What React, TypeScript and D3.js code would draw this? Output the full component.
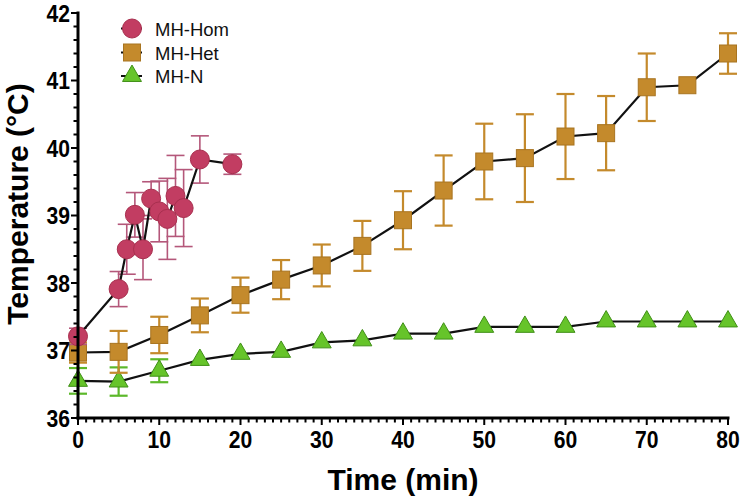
import React from "react";
import * as d3 from "d3";

const homTime = [0, 5, 6, 7, 8, 9, 10, 11, 12, 13, 15, 19];
const homMean = [37.21, 37.91, 38.5, 39.01, 38.5, 39.25, 39.06, 38.95, 39.29, 39.11, 39.83, 39.76];
const homErr = [0.12, 0.26, 0.37, 0.33, 0.45, 0.25, 0.45, 0.6, 0.6, 0.57, 0.35, 0.15];

const hetTime = [0, 5, 10, 15, 20, 25, 30, 35, 40, 45, 50, 55, 60, 65, 70, 75, 80];
const hetMean = [36.97, 36.98, 37.23, 37.52, 37.82, 38.05, 38.26, 38.55, 38.93, 39.37, 39.8, 39.85, 40.17, 40.22, 40.9, 40.93, 41.4];
const hetErr = [0.15, 0.31, 0.27, 0.25, 0.26, 0.29, 0.31, 0.37, 0.43, 0.52, 0.56, 0.65, 0.63, 0.55, 0.5, 0, 0.3];

const nTime = [0, 5, 10, 15, 20, 25, 30, 35, 40, 45, 50, 55, 60, 65, 70, 75, 80];
const nMean = [36.55, 36.54, 36.7, 36.86, 36.95, 36.98, 37.12, 37.15, 37.25, 37.25, 37.35, 37.35, 37.35, 37.43, 37.43, 37.43, 37.43];
const nErr = [0.19, 0.21, 0.17, 0, 0, 0, 0, 0, 0, 0, 0, 0, 0, 0, 0, 0, 0];

const xTicks = [0, 10, 20, 30, 40, 50, 60, 70, 80];
const yTicks = [36, 37, 38, 39, 40, 41, 42];
const seriesNames = ["MH-Hom", "MH-Het", "MH-N"];

const FONT = "'Liberation Sans', Arial, Helvetica, sans-serif";

type Pt = { t: number; m: number; e: number };
const zip = (t: number[], m: number[], e: number[]): Pt[] => t.map((v, i) => ({ t: v, m: m[i], e: e[i] }));

export default function App() {
  const W = 744, H = 501;
  const x = d3.scaleLinear().domain([0, 80]).range([78, 728]);
  const y = d3.scaleLinear().domain([36, 42]).range([418, 13]);
  const line = d3.line<Pt>().x(d => x(d.t)).y(d => y(d.m));

  const series = [
    { name: seriesNames[2], data: zip(nTime, nMean, nErr), fill: "#66c42a", stroke: "#3f8f16", err: "#5cb82a", shape: "tri" },
    { name: seriesNames[1], data: zip(hetTime, hetMean, hetErr), fill: "#c48a2c", stroke: "#a87420", err: "#c48a2c", shape: "sq" },
    { name: seriesNames[0], data: zip(homTime, homMean, homErr), fill: "#c23d62", stroke: "#a8304f", err: "#b4577a", shape: "circ" },
  ];

  const marker = (shape: string, cx: number, cy: number, fill: string, stroke: string, key?: any) => {
    if (shape === "circ") return <circle key={key} cx={cx} cy={cy} r={9.5} fill={fill} stroke={stroke} strokeWidth={1} />;
    if (shape === "sq") return <rect key={key} x={cx - 8.5} y={cy - 8.5} width={17} height={17} fill={fill} stroke={stroke} strokeWidth={1} />;
    const p = d3.symbol().type(d3.symbolTriangle).size(155)();
    return <path key={key} d={p || ""} transform={`translate(${cx},${cy})`} fill={fill} stroke={stroke} strokeWidth={1} />;
  };

  const minorX = d3.range(0, 81, 1).filter(v => v % 10 !== 0);
  const minorY = d3.range(36, 42.001, 0.2).map(v => +v.toFixed(1)).filter(v => Math.abs(v - Math.round(v)) > 0.01);

  return (
    <svg width={W} height={H} style={{ position: "absolute", left: 0, top: 0, background: "#fff" }} fontFamily={FONT}>
      <rect width={W} height={H} fill="#fff" />
      {series.map(s => (
        <g key={s.name}>
          {s.data.filter(d => d.e > 0).map((d, i) => (
            <g key={i} stroke={s.err} strokeWidth={s.shape === "circ" ? 1.6 : 2.2} fill="none">
              <line x1={x(d.t)} x2={x(d.t)} y1={y(d.m - d.e)} y2={y(d.m + d.e)} />
              <line x1={x(d.t) - 9} x2={x(d.t) + 9} y1={y(d.m + d.e)} y2={y(d.m + d.e)} />
              <line x1={x(d.t) - 9} x2={x(d.t) + 9} y1={y(d.m - d.e)} y2={y(d.m - d.e)} />
            </g>
          ))}
          <path d={line(s.data) || ""} fill="none" stroke="#111" strokeWidth={2.2} />
          {s.data.map((d, i) => marker(s.shape, x(d.t), y(d.m), s.fill, s.stroke, i))}
        </g>
      ))}
      <g stroke="#000" strokeWidth={3}>
        <line x1={x(0)} x2={x(0)} y1={y(42) - 1.5} y2={y(36) + 1.5} />
        <line x1={x(0) - 1.5} x2={x(80) + 1.5} y1={y(36)} y2={y(36)} />
      </g>
      <g stroke="#000" strokeWidth={2}>
        {yTicks.map(v => <line key={v} x1={x(0) - 7} x2={x(0)} y1={y(v)} y2={y(v)} />)}
        {minorY.map(v => <line key={v} x1={x(0) - 4.5} x2={x(0)} y1={y(v)} y2={y(v)} />)}
        {xTicks.map(v => <line key={v} x1={x(v)} x2={x(v)} y1={y(36)} y2={y(36) + 7} />)}
        {minorX.map(v => <line key={v} x1={x(v)} x2={x(v)} y1={y(36)} y2={y(36) + 4.5} />)}
      </g>
      <g fontWeight="bold" fontSize={24} fill="#000">
        {yTicks.map(v => (
          <text key={v} transform={`translate(${x(0) - 8},${y(v) + 8.5}) scale(0.88,1)`} textAnchor="end">{v}</text>
        ))}
        {xTicks.map(v => (
          <text key={v} transform={`translate(${x(v)},${448}) scale(0.88,1)`} textAnchor="middle">{v}</text>
        ))}
      </g>
      <text x={403} y={490} textAnchor="middle" fontWeight="bold" fontSize={30}>Time (min)</text>
      <text transform="translate(28,204) rotate(-90)" textAnchor="middle" fontWeight="bold" fontSize={30}>Temperature (°C)</text>
      {[series[2], series[1], series[0]].map((s, i) => {
        const cy = [28.5, 52.5, 76][i];
        return (
          <g key={s.name}>
            <line x1={121} x2={142} y1={cy} y2={cy} stroke="#111" strokeWidth={2} />
            {marker(s.shape, 132, cy, s.fill, s.stroke)}
            <text x={155} y={cy + 7} fontSize={18.5} fill="#111">{s.name}</text>
          </g>
        );
      })}
    </svg>
  );
}
